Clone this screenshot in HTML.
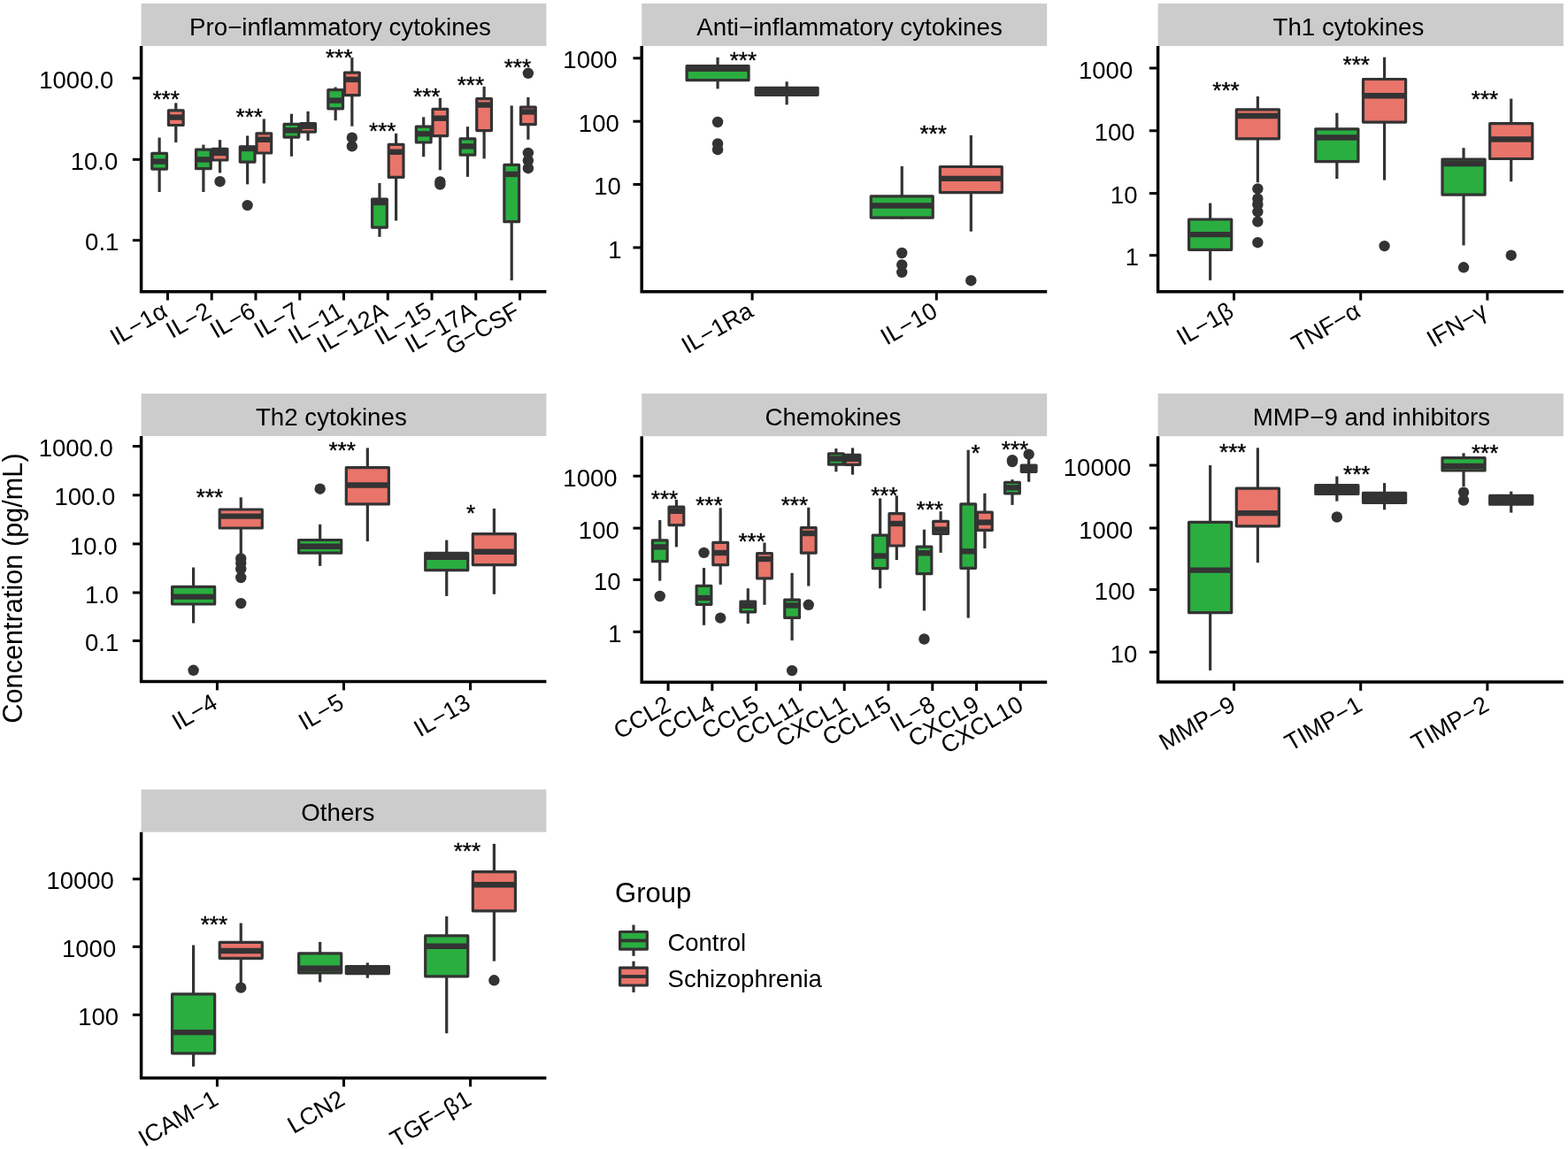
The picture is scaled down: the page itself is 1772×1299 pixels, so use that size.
<!DOCTYPE html><html><head><meta charset="utf-8"><title>Cytokine concentrations</title>
<style>html,body{margin:0;padding:0;background:#fff;}svg{display:block;}text{font-family:'Liberation Sans', Arial, Helvetica, sans-serif;fill:#000;}</style></head><body>
<svg width="1772" height="1299" viewBox="0 0 1772 1299">
<rect x="0" y="0" width="1772" height="1299" fill="#ffffff"/>
<rect x="159.6" y="4" width="457.8" height="48" fill="#CCCCCC"/>
<text x="214.07" y="39.8" font-size="27.7">Pro−inflammatory cytokines</text>
<g stroke="#000" stroke-width="3.5" fill="none">
<path d="M159.6 52 V329.7 H617.4"/>
</g>
<g stroke="#000" stroke-width="3">
<line x1="149.85" y1="88.3" x2="159.6" y2="88.3"/>
<line x1="149.85" y1="180.3" x2="159.6" y2="180.3"/>
<line x1="149.85" y1="271.7" x2="159.6" y2="271.7"/>
<line x1="189.46" y1="329.7" x2="189.46" y2="339.45"/>
<line x1="239.22" y1="329.7" x2="239.22" y2="339.45"/>
<line x1="288.98" y1="329.7" x2="288.98" y2="339.45"/>
<line x1="338.74" y1="329.7" x2="338.74" y2="339.45"/>
<line x1="388.5" y1="329.7" x2="388.5" y2="339.45"/>
<line x1="438.26" y1="329.7" x2="438.26" y2="339.45"/>
<line x1="488.02" y1="329.7" x2="488.02" y2="339.45"/>
<line x1="537.78" y1="329.7" x2="537.78" y2="339.45"/>
<line x1="587.54" y1="329.7" x2="587.54" y2="339.45"/>
</g>
<text x="44.28" y="99.97" font-size="27.5">1000.0</text>
<text x="79.78" y="191.97" font-size="27.5">10.0</text>
<text x="96.12" y="283.37" font-size="27.5">0.1</text>
<text transform="translate(190.96 356.7) rotate(-30)" font-size="27" text-anchor="end">IL−1α</text>
<text transform="translate(240.72 356.7) rotate(-30)" font-size="27" text-anchor="end">IL−2</text>
<text transform="translate(290.48 356.7) rotate(-30)" font-size="27" text-anchor="end">IL−6</text>
<text transform="translate(340.24 356.7) rotate(-30)" font-size="27" text-anchor="end">IL−7</text>
<text transform="translate(390 356.7) rotate(-30)" font-size="27" text-anchor="end">IL−11</text>
<text transform="translate(439.76 356.7) rotate(-30)" font-size="27" text-anchor="end">IL−12A</text>
<text transform="translate(489.52 356.7) rotate(-30)" font-size="27" text-anchor="end">IL−15</text>
<text transform="translate(539.28 356.7) rotate(-30)" font-size="27" text-anchor="end">IL−17A</text>
<text transform="translate(589.04 356.7) rotate(-30)" font-size="27" text-anchor="end">G−CSF</text>
<g stroke="#333333" stroke-width="3.2" stroke-linejoin="round">
<line x1="180.13" y1="155.6" x2="180.13" y2="173.4"/>
<line x1="180.13" y1="191.1" x2="180.13" y2="217"/>
<rect x="171.77" y="173.4" width="16.72" height="17.7" fill="#2AAE40"/>
<line x1="171.77" y1="182.6" x2="188.49" y2="182.6" stroke-width="6.4"/>
<line x1="198.79" y1="116.4" x2="198.79" y2="124.9"/>
<line x1="198.79" y1="141.5" x2="198.79" y2="161"/>
<rect x="190.43" y="124.9" width="16.72" height="16.6" fill="#E9746A"/>
<line x1="190.43" y1="132.6" x2="207.15" y2="132.6" stroke-width="6.4"/>
<line x1="229.89" y1="163.6" x2="229.89" y2="169.1"/>
<line x1="229.89" y1="190.7" x2="229.89" y2="217"/>
<rect x="221.53" y="169.1" width="16.72" height="21.6" fill="#2AAE40"/>
<line x1="221.53" y1="180.4" x2="238.25" y2="180.4" stroke-width="6.4"/>
<line x1="248.55" y1="158.2" x2="248.55" y2="168.4"/>
<line x1="248.55" y1="181" x2="248.55" y2="195.5"/>
<rect x="240.19" y="168.4" width="16.72" height="12.6" fill="#E9746A"/>
<line x1="240.19" y1="173" x2="256.91" y2="173" stroke-width="6.4"/>
<circle cx="248.55" cy="205.2" r="6.2" fill="#333333" stroke="none"/>
<line x1="279.65" y1="153.5" x2="279.65" y2="165.8"/>
<line x1="279.65" y1="183.1" x2="279.65" y2="208.4"/>
<rect x="271.29" y="165.8" width="16.72" height="17.3" fill="#2AAE40"/>
<line x1="271.29" y1="168" x2="288.01" y2="168" stroke-width="6.4"/>
<circle cx="279.65" cy="232.1" r="6.2" fill="#333333" stroke="none"/>
<line x1="298.31" y1="134.5" x2="298.31" y2="150.8"/>
<line x1="298.31" y1="173" x2="298.31" y2="207.4"/>
<rect x="289.95" y="150.8" width="16.72" height="22.2" fill="#E9746A"/>
<line x1="289.95" y1="157.8" x2="306.67" y2="157.8" stroke-width="6.4"/>
<line x1="329.41" y1="128.7" x2="329.41" y2="140.4"/>
<line x1="329.41" y1="155.1" x2="329.41" y2="176.8"/>
<rect x="321.05" y="140.4" width="16.72" height="14.7" fill="#2AAE40"/>
<line x1="321.05" y1="147.4" x2="337.77" y2="147.4" stroke-width="6.4"/>
<line x1="348.07" y1="125.9" x2="348.07" y2="139.6"/>
<line x1="348.07" y1="149.1" x2="348.07" y2="158.9"/>
<rect x="339.71" y="139.6" width="16.72" height="9.5" fill="#E9746A"/>
<line x1="339.71" y1="142.7" x2="356.43" y2="142.7" stroke-width="6.4"/>
<line x1="379.17" y1="98.5" x2="379.17" y2="101.6"/>
<line x1="379.17" y1="122.8" x2="379.17" y2="136.2"/>
<rect x="370.81" y="101.6" width="16.72" height="21.2" fill="#2AAE40"/>
<line x1="370.81" y1="113.6" x2="387.53" y2="113.6" stroke-width="6.4"/>
<line x1="397.83" y1="65.1" x2="397.83" y2="82.2"/>
<line x1="397.83" y1="107.7" x2="397.83" y2="142.7"/>
<rect x="389.47" y="82.2" width="16.72" height="25.5" fill="#E9746A"/>
<line x1="389.47" y1="89.9" x2="406.19" y2="89.9" stroke-width="6.4"/>
<circle cx="397.83" cy="155.7" r="6.2" fill="#333333" stroke="none"/>
<circle cx="397.83" cy="165.4" r="6.2" fill="#333333" stroke="none"/>
<line x1="428.93" y1="207" x2="428.93" y2="225.2"/>
<line x1="428.93" y1="257.1" x2="428.93" y2="267.8"/>
<rect x="420.57" y="225.2" width="16.72" height="31.9" fill="#2AAE40"/>
<line x1="420.57" y1="229" x2="437.29" y2="229" stroke-width="6.4"/>
<line x1="447.59" y1="150.9" x2="447.59" y2="163.3"/>
<line x1="447.59" y1="200.4" x2="447.59" y2="249.5"/>
<rect x="439.23" y="163.3" width="16.72" height="37.1" fill="#E9746A"/>
<line x1="439.23" y1="171.8" x2="455.95" y2="171.8" stroke-width="6.4"/>
<line x1="478.69" y1="132.4" x2="478.69" y2="143.2"/>
<line x1="478.69" y1="161" x2="478.69" y2="177.2"/>
<rect x="470.33" y="143.2" width="16.72" height="17.8" fill="#2AAE40"/>
<line x1="470.33" y1="151.3" x2="487.05" y2="151.3" stroke-width="6.4"/>
<line x1="497.35" y1="110.8" x2="497.35" y2="123.4"/>
<line x1="497.35" y1="153.6" x2="497.35" y2="192.3"/>
<rect x="488.99" y="123.4" width="16.72" height="30.2" fill="#E9746A"/>
<line x1="488.99" y1="133.7" x2="505.71" y2="133.7" stroke-width="6.4"/>
<circle cx="497.35" cy="205.5" r="6.2" fill="#333333" stroke="none"/>
<circle cx="497.35" cy="208.5" r="6.2" fill="#333333" stroke="none"/>
<line x1="528.45" y1="143.2" x2="528.45" y2="156.8"/>
<line x1="528.45" y1="175.2" x2="528.45" y2="199.9"/>
<rect x="520.09" y="156.8" width="16.72" height="18.4" fill="#2AAE40"/>
<line x1="520.09" y1="165.4" x2="536.81" y2="165.4" stroke-width="6.4"/>
<line x1="547.11" y1="97.9" x2="547.11" y2="111.6"/>
<line x1="547.11" y1="147.6" x2="547.11" y2="179.4"/>
<rect x="538.75" y="111.6" width="16.72" height="36" fill="#E9746A"/>
<line x1="538.75" y1="118.6" x2="555.47" y2="118.6" stroke-width="6.4"/>
<line x1="578.21" y1="119.4" x2="578.21" y2="186.4"/>
<line x1="578.21" y1="250.7" x2="578.21" y2="317"/>
<rect x="569.85" y="186.4" width="16.72" height="64.3" fill="#2AAE40"/>
<line x1="569.85" y1="197" x2="586.57" y2="197" stroke-width="6.4"/>
<line x1="596.87" y1="110" x2="596.87" y2="121.2"/>
<line x1="596.87" y1="140.7" x2="596.87" y2="157.8"/>
<rect x="588.51" y="121.2" width="16.72" height="19.5" fill="#E9746A"/>
<line x1="588.51" y1="126.5" x2="605.23" y2="126.5" stroke-width="6.4"/>
<circle cx="596.87" cy="82.8" r="6.2" fill="#333333" stroke="none"/>
<circle cx="596.87" cy="172.9" r="6.2" fill="#333333" stroke="none"/>
<circle cx="596.87" cy="181.5" r="6.2" fill="#333333" stroke="none"/>
<circle cx="596.87" cy="190.2" r="6.2" fill="#333333" stroke="none"/>
</g>
<text x="172.42" y="121.02" font-size="26" stroke="#000" stroke-width="0.4">***</text>
<text x="266.62" y="141.22" font-size="26" stroke="#000" stroke-width="0.4">***</text>
<text x="367.92" y="74.22" font-size="26" stroke="#000" stroke-width="0.4">***</text>
<text x="417.02" y="156.82" font-size="26" stroke="#000" stroke-width="0.4">***</text>
<text x="467.12" y="117.82" font-size="26" stroke="#000" stroke-width="0.4">***</text>
<text x="516.72" y="104.92" font-size="26" stroke="#000" stroke-width="0.4">***</text>
<text x="569.72" y="84.82" font-size="26" stroke="#000" stroke-width="0.4">***</text>
<rect x="725.2" y="4" width="458" height="48" fill="#CCCCCC"/>
<text x="787.27" y="39.8" font-size="27.7">Anti−inflammatory cytokines</text>
<g stroke="#000" stroke-width="3.5" fill="none">
<path d="M725.2 52 V329.7 H1183.2"/>
</g>
<g stroke="#000" stroke-width="3">
<line x1="715.45" y1="65.8" x2="725.2" y2="65.8"/>
<line x1="715.45" y1="137.2" x2="725.2" y2="137.2"/>
<line x1="715.45" y1="208.5" x2="725.2" y2="208.5"/>
<line x1="715.45" y1="279.9" x2="725.2" y2="279.9"/>
<line x1="850.11" y1="329.7" x2="850.11" y2="339.45"/>
<line x1="1058.29" y1="329.7" x2="1058.29" y2="339.45"/>
</g>
<text x="636.35" y="77.47" font-size="27.5">1000</text>
<text x="653.85" y="148.87" font-size="27.5">100</text>
<text x="671.3" y="220.17" font-size="27.5">10</text>
<text x="687.28" y="291.56" font-size="27.5">1</text>
<text transform="translate(853.11 356.7) rotate(-30)" font-size="27" text-anchor="end">IL−1Ra</text>
<text transform="translate(1061.29 356.7) rotate(-30)" font-size="27" text-anchor="end">IL−10</text>
<g stroke="#333333" stroke-width="3.2" stroke-linejoin="round">
<line x1="811.08" y1="64.9" x2="811.08" y2="74.6"/>
<line x1="811.08" y1="90.7" x2="811.08" y2="100.4"/>
<rect x="776.1" y="74.6" width="69.95" height="16.1" fill="#2AAE40"/>
<line x1="776.1" y1="77.8" x2="846.05" y2="77.8" stroke-width="6.4"/>
<circle cx="811.08" cy="138" r="6.2" fill="#333333" stroke="none"/>
<circle cx="811.08" cy="162.4" r="6.2" fill="#333333" stroke="none"/>
<circle cx="811.08" cy="169.2" r="6.2" fill="#333333" stroke="none"/>
<line x1="889.14" y1="92.3" x2="889.14" y2="99.3"/>
<line x1="889.14" y1="107.3" x2="889.14" y2="118.4"/>
<rect x="854.17" y="99.3" width="69.95" height="8" fill="#E9746A"/>
<line x1="854.17" y1="104.3" x2="924.12" y2="104.3" stroke-width="6.4"/>
<line x1="1019.26" y1="187.9" x2="1019.26" y2="221.8"/>
<line x1="1019.26" y1="246.1" x2="1019.26" y2="247.7"/>
<rect x="984.28" y="221.8" width="69.95" height="24.3" fill="#2AAE40"/>
<line x1="984.28" y1="232.5" x2="1054.23" y2="232.5" stroke-width="6.4"/>
<circle cx="1019.26" cy="286" r="6.2" fill="#333333" stroke="none"/>
<circle cx="1019.26" cy="299.4" r="6.2" fill="#333333" stroke="none"/>
<circle cx="1019.26" cy="307.8" r="6.2" fill="#333333" stroke="none"/>
<line x1="1097.33" y1="152.9" x2="1097.33" y2="188.5"/>
<line x1="1097.33" y1="217.6" x2="1097.33" y2="261.7"/>
<rect x="1062.35" y="188.5" width="69.95" height="29.1" fill="#E9746A"/>
<line x1="1062.35" y1="201.9" x2="1132.3" y2="201.9" stroke-width="6.4"/>
<circle cx="1097.33" cy="317.2" r="6.2" fill="#333333" stroke="none"/>
</g>
<text x="824.72" y="77.42" font-size="26" stroke="#000" stroke-width="0.4">***</text>
<text x="1039.42" y="160.22" font-size="26" stroke="#000" stroke-width="0.4">***</text>
<rect x="1308.6" y="4" width="458.2" height="48" fill="#CCCCCC"/>
<text x="1438.54" y="39.8" font-size="27.7">Th1 cytokines</text>
<g stroke="#000" stroke-width="3.5" fill="none">
<path d="M1308.6 52 V329.8 H1766.8"/>
</g>
<g stroke="#000" stroke-width="3">
<line x1="1298.85" y1="77" x2="1308.6" y2="77"/>
<line x1="1298.85" y1="147.8" x2="1308.6" y2="147.8"/>
<line x1="1298.85" y1="218.6" x2="1308.6" y2="218.6"/>
<line x1="1298.85" y1="288.7" x2="1308.6" y2="288.7"/>
<line x1="1394.51" y1="329.8" x2="1394.51" y2="339.55"/>
<line x1="1537.7" y1="329.8" x2="1537.7" y2="339.55"/>
<line x1="1680.89" y1="329.8" x2="1680.89" y2="339.55"/>
</g>
<text x="1219" y="88.67" font-size="27.5">1000</text>
<text x="1236.7" y="159.47" font-size="27.5">100</text>
<text x="1254.85" y="230.27" font-size="27.5">10</text>
<text x="1271.83" y="300.36" font-size="27.5">1</text>
<text transform="translate(1396.01 356.8) rotate(-30)" font-size="27" text-anchor="end">IL−1β</text>
<text transform="translate(1539.2 356.8) rotate(-30)" font-size="27" text-anchor="end">TNF−α</text>
<text transform="translate(1682.39 356.8) rotate(-30)" font-size="27" text-anchor="end">IFN−γ</text>
<g stroke="#333333" stroke-width="3.2" stroke-linejoin="round">
<line x1="1367.66" y1="229.6" x2="1367.66" y2="248"/>
<line x1="1367.66" y1="282.3" x2="1367.66" y2="316.9"/>
<rect x="1343.61" y="248" width="48.11" height="34.3" fill="#2AAE40"/>
<line x1="1343.61" y1="265.1" x2="1391.72" y2="265.1" stroke-width="6.4"/>
<line x1="1421.36" y1="109" x2="1421.36" y2="123.8"/>
<line x1="1421.36" y1="156.8" x2="1421.36" y2="206.3"/>
<rect x="1397.3" y="123.8" width="48.11" height="33" fill="#E9746A"/>
<line x1="1397.3" y1="131" x2="1445.42" y2="131" stroke-width="6.4"/>
<circle cx="1421.36" cy="213.4" r="6.2" fill="#333333" stroke="none"/>
<circle cx="1421.36" cy="224.7" r="6.2" fill="#333333" stroke="none"/>
<circle cx="1421.36" cy="231.2" r="6.2" fill="#333333" stroke="none"/>
<circle cx="1421.36" cy="239.3" r="6.2" fill="#333333" stroke="none"/>
<circle cx="1421.36" cy="250.6" r="6.2" fill="#333333" stroke="none"/>
<circle cx="1421.36" cy="274.2" r="6.2" fill="#333333" stroke="none"/>
<line x1="1510.85" y1="127.7" x2="1510.85" y2="145.8"/>
<line x1="1510.85" y1="182.7" x2="1510.85" y2="202.1"/>
<rect x="1486.8" y="145.8" width="48.11" height="36.9" fill="#2AAE40"/>
<line x1="1486.8" y1="155.5" x2="1534.91" y2="155.5" stroke-width="6.4"/>
<line x1="1564.55" y1="64.7" x2="1564.55" y2="89.5"/>
<line x1="1564.55" y1="138.1" x2="1564.55" y2="203.7"/>
<rect x="1540.49" y="89.5" width="48.11" height="48.6" fill="#E9746A"/>
<line x1="1540.49" y1="108.3" x2="1588.6" y2="108.3" stroke-width="6.4"/>
<circle cx="1564.55" cy="278.1" r="6.2" fill="#333333" stroke="none"/>
<line x1="1654.04" y1="167.2" x2="1654.04" y2="180.1"/>
<line x1="1654.04" y1="220.2" x2="1654.04" y2="277.4"/>
<rect x="1629.98" y="180.1" width="48.11" height="40.1" fill="#2AAE40"/>
<line x1="1629.98" y1="185" x2="1678.1" y2="185" stroke-width="6.4"/>
<circle cx="1654.04" cy="302.3" r="6.2" fill="#333333" stroke="none"/>
<line x1="1707.74" y1="111.6" x2="1707.74" y2="139.7"/>
<line x1="1707.74" y1="179.5" x2="1707.74" y2="205.3"/>
<rect x="1683.68" y="139.7" width="48.11" height="39.8" fill="#E9746A"/>
<line x1="1683.68" y1="157.5" x2="1731.79" y2="157.5" stroke-width="6.4"/>
<circle cx="1707.74" cy="288.7" r="6.2" fill="#333333" stroke="none"/>
</g>
<text x="1370.32" y="110.62" font-size="26" stroke="#000" stroke-width="0.4">***</text>
<text x="1517.52" y="81.62" font-size="26" stroke="#000" stroke-width="0.4">***</text>
<text x="1662.82" y="121.32" font-size="26" stroke="#000" stroke-width="0.4">***</text>
<rect x="159.6" y="445" width="457.8" height="48" fill="#CCCCCC"/>
<text x="288.94" y="480.8" font-size="27.7">Th2 cytokines</text>
<g stroke="#000" stroke-width="3.5" fill="none">
<path d="M159.6 493 V770.6 H617.4"/>
</g>
<g stroke="#000" stroke-width="3">
<line x1="149.85" y1="504.5" x2="159.6" y2="504.5"/>
<line x1="149.85" y1="559.8" x2="159.6" y2="559.8"/>
<line x1="149.85" y1="614.9" x2="159.6" y2="614.9"/>
<line x1="149.85" y1="670" x2="159.6" y2="670"/>
<line x1="149.85" y1="724.4" x2="159.6" y2="724.4"/>
<line x1="245.44" y1="770.6" x2="245.44" y2="780.35"/>
<line x1="388.5" y1="770.6" x2="388.5" y2="780.35"/>
<line x1="531.56" y1="770.6" x2="531.56" y2="780.35"/>
</g>
<text x="43.63" y="516.17" font-size="27.5">1000.0</text>
<text x="61.43" y="571.47" font-size="27.5">100.0</text>
<text x="79.03" y="626.57" font-size="27.5">10.0</text>
<text x="95.93" y="681.67" font-size="27.5">1.0</text>
<text x="96.07" y="736.07" font-size="27.5">0.1</text>
<text transform="translate(247.44 799.6) rotate(-30)" font-size="27" text-anchor="end">IL−4</text>
<text transform="translate(390.5 799.6) rotate(-30)" font-size="27" text-anchor="end">IL−5</text>
<text transform="translate(533.56 799.6) rotate(-30)" font-size="27" text-anchor="end">IL−13</text>
<g stroke="#333333" stroke-width="3.2" stroke-linejoin="round">
<line x1="218.61" y1="641.5" x2="218.61" y2="663.4"/>
<line x1="218.61" y1="683" x2="218.61" y2="704.5"/>
<rect x="194.58" y="663.4" width="48.07" height="19.6" fill="#2AAE40"/>
<line x1="194.58" y1="674.6" x2="242.65" y2="674.6" stroke-width="6.4"/>
<circle cx="218.61" cy="757.8" r="6.2" fill="#333333" stroke="none"/>
<line x1="272.26" y1="562.3" x2="272.26" y2="576"/>
<line x1="272.26" y1="597" x2="272.26" y2="627.3"/>
<rect x="248.23" y="576" width="48.07" height="21" fill="#E9746A"/>
<line x1="248.23" y1="583.6" x2="296.3" y2="583.6" stroke-width="6.4"/>
<circle cx="272.26" cy="631.5" r="6.2" fill="#333333" stroke="none"/>
<circle cx="272.26" cy="636.7" r="6.2" fill="#333333" stroke="none"/>
<circle cx="272.26" cy="643.2" r="6.2" fill="#333333" stroke="none"/>
<circle cx="272.26" cy="653" r="6.2" fill="#333333" stroke="none"/>
<circle cx="272.26" cy="682.1" r="6.2" fill="#333333" stroke="none"/>
<line x1="361.68" y1="592.8" x2="361.68" y2="610.5"/>
<line x1="361.68" y1="625.2" x2="361.68" y2="639.8"/>
<rect x="337.64" y="610.5" width="48.07" height="14.7" fill="#2AAE40"/>
<line x1="337.64" y1="617.7" x2="385.71" y2="617.7" stroke-width="6.4"/>
<circle cx="361.68" cy="552.7" r="6.2" fill="#333333" stroke="none"/>
<line x1="415.32" y1="506.4" x2="415.32" y2="528.7"/>
<line x1="415.32" y1="569.9" x2="415.32" y2="612"/>
<rect x="391.29" y="528.7" width="48.07" height="41.2" fill="#E9746A"/>
<line x1="391.29" y1="548.5" x2="439.36" y2="548.5" stroke-width="6.4"/>
<line x1="504.74" y1="610.6" x2="504.74" y2="625.3"/>
<line x1="504.74" y1="644.7" x2="504.74" y2="673.9"/>
<rect x="480.7" y="625.3" width="48.07" height="19.4" fill="#2AAE40"/>
<line x1="480.7" y1="629.8" x2="528.77" y2="629.8" stroke-width="6.4"/>
<line x1="558.39" y1="575" x2="558.39" y2="603.7"/>
<line x1="558.39" y1="638.6" x2="558.39" y2="671.8"/>
<rect x="534.35" y="603.7" width="48.07" height="34.9" fill="#E9746A"/>
<line x1="534.35" y1="623.7" x2="582.42" y2="623.7" stroke-width="6.4"/>
</g>
<text x="221.82" y="570.92" font-size="26" stroke="#000" stroke-width="0.4">***</text>
<text x="371.42" y="517.92" font-size="26" stroke="#000" stroke-width="0.4">***</text>
<text x="527.03" y="588.52" font-size="26" stroke="#000" stroke-width="0.4">*</text>
<rect x="725.2" y="444.9" width="458" height="48.3" fill="#CCCCCC"/>
<text x="864.42" y="480.7" font-size="27.7">Chemokines</text>
<g stroke="#000" stroke-width="3.5" fill="none">
<path d="M725.2 493.2 V771.2 H1183.2"/>
</g>
<g stroke="#000" stroke-width="3">
<line x1="715.45" y1="538.2" x2="725.2" y2="538.2"/>
<line x1="715.45" y1="597.1" x2="725.2" y2="597.1"/>
<line x1="715.45" y1="655.4" x2="725.2" y2="655.4"/>
<line x1="715.45" y1="714.3" x2="725.2" y2="714.3"/>
<line x1="755.07" y1="771.2" x2="755.07" y2="780.95"/>
<line x1="804.85" y1="771.2" x2="804.85" y2="780.95"/>
<line x1="854.63" y1="771.2" x2="854.63" y2="780.95"/>
<line x1="904.42" y1="771.2" x2="904.42" y2="780.95"/>
<line x1="954.2" y1="771.2" x2="954.2" y2="780.95"/>
<line x1="1003.98" y1="771.2" x2="1003.98" y2="780.95"/>
<line x1="1053.77" y1="771.2" x2="1053.77" y2="780.95"/>
<line x1="1103.55" y1="771.2" x2="1103.55" y2="780.95"/>
<line x1="1153.33" y1="771.2" x2="1153.33" y2="780.95"/>
</g>
<text x="636.35" y="549.87" font-size="27.5">1000</text>
<text x="653.85" y="608.77" font-size="27.5">100</text>
<text x="671" y="667.07" font-size="27.5">10</text>
<text x="687.28" y="725.96" font-size="27.5">1</text>
<text transform="translate(760.07 801.7) rotate(-30)" font-size="27" text-anchor="end">CCL2</text>
<text transform="translate(809.85 801.7) rotate(-30)" font-size="27" text-anchor="end">CCL4</text>
<text transform="translate(859.63 801.7) rotate(-30)" font-size="27" text-anchor="end">CCL5</text>
<text transform="translate(909.42 801.7) rotate(-30)" font-size="27" text-anchor="end">CCL11</text>
<text transform="translate(959.2 801.7) rotate(-30)" font-size="27" text-anchor="end">CXCL1</text>
<text transform="translate(1008.98 801.7) rotate(-30)" font-size="27" text-anchor="end">CCL15</text>
<text transform="translate(1058.77 801.7) rotate(-30)" font-size="27" text-anchor="end">IL−8</text>
<text transform="translate(1108.55 801.7) rotate(-30)" font-size="27" text-anchor="end">CXCL9</text>
<text transform="translate(1158.33 801.7) rotate(-30)" font-size="27" text-anchor="end">CXCL10</text>
<g stroke="#333333" stroke-width="3.2" stroke-linejoin="round">
<line x1="745.74" y1="588" x2="745.74" y2="610.9"/>
<line x1="745.74" y1="634.7" x2="745.74" y2="656.7"/>
<rect x="737.37" y="610.9" width="16.73" height="23.8" fill="#2AAE40"/>
<line x1="737.37" y1="618.4" x2="754.1" y2="618.4" stroke-width="6.4"/>
<circle cx="745.74" cy="674" r="6.2" fill="#333333" stroke="none"/>
<line x1="764.4" y1="565" x2="764.4" y2="573.1"/>
<line x1="764.4" y1="593.6" x2="764.4" y2="618.4"/>
<rect x="756.04" y="573.1" width="16.73" height="20.5" fill="#E9746A"/>
<line x1="756.04" y1="577.8" x2="772.77" y2="577.8" stroke-width="6.4"/>
<line x1="795.52" y1="642" x2="795.52" y2="662.4"/>
<line x1="795.52" y1="683.3" x2="795.52" y2="706.8"/>
<rect x="787.15" y="662.4" width="16.73" height="20.9" fill="#2AAE40"/>
<line x1="787.15" y1="676" x2="803.88" y2="676" stroke-width="6.4"/>
<circle cx="795.52" cy="624.9" r="6.2" fill="#333333" stroke="none"/>
<line x1="814.19" y1="574.2" x2="814.19" y2="613.3"/>
<line x1="814.19" y1="638.7" x2="814.19" y2="660.9"/>
<rect x="805.82" y="613.3" width="16.73" height="25.4" fill="#E9746A"/>
<line x1="805.82" y1="625" x2="822.55" y2="625" stroke-width="6.4"/>
<circle cx="814.19" cy="698.6" r="6.2" fill="#333333" stroke="none"/>
<line x1="845.3" y1="665.2" x2="845.3" y2="680.2"/>
<line x1="845.3" y1="691.8" x2="845.3" y2="705.1"/>
<rect x="836.94" y="680.2" width="16.73" height="11.6" fill="#2AAE40"/>
<line x1="836.94" y1="684.8" x2="853.66" y2="684.8" stroke-width="6.4"/>
<line x1="863.97" y1="613.5" x2="863.97" y2="625.6"/>
<line x1="863.97" y1="653.9" x2="863.97" y2="683.8"/>
<rect x="855.61" y="625.6" width="16.73" height="28.3" fill="#E9746A"/>
<line x1="855.61" y1="632" x2="872.33" y2="632" stroke-width="6.4"/>
<line x1="895.08" y1="647.8" x2="895.08" y2="678.1"/>
<line x1="895.08" y1="698.4" x2="895.08" y2="724.1"/>
<rect x="886.72" y="678.1" width="16.73" height="20.3" fill="#2AAE40"/>
<line x1="886.72" y1="684.5" x2="903.45" y2="684.5" stroke-width="6.4"/>
<circle cx="895.08" cy="758.1" r="6.2" fill="#333333" stroke="none"/>
<line x1="913.75" y1="573.7" x2="913.75" y2="596.6"/>
<line x1="913.75" y1="625.2" x2="913.75" y2="662.6"/>
<rect x="905.39" y="596.6" width="16.73" height="28.6" fill="#E9746A"/>
<line x1="905.39" y1="603" x2="922.12" y2="603" stroke-width="6.4"/>
<circle cx="913.75" cy="683.8" r="6.2" fill="#333333" stroke="none"/>
<line x1="944.87" y1="507.1" x2="944.87" y2="512.8"/>
<line x1="944.87" y1="525.2" x2="944.87" y2="533.3"/>
<rect x="936.5" y="512.8" width="16.73" height="12.4" fill="#2AAE40"/>
<line x1="936.5" y1="518.6" x2="953.23" y2="518.6" stroke-width="6.4"/>
<line x1="963.53" y1="506.4" x2="963.53" y2="514.4"/>
<line x1="963.53" y1="525.3" x2="963.53" y2="536.6"/>
<rect x="955.17" y="514.4" width="16.73" height="10.9" fill="#E9746A"/>
<line x1="955.17" y1="518.8" x2="971.9" y2="518.8" stroke-width="6.4"/>
<line x1="994.65" y1="563.4" x2="994.65" y2="605.1"/>
<line x1="994.65" y1="642.6" x2="994.65" y2="665.2"/>
<rect x="986.28" y="605.1" width="16.73" height="37.5" fill="#2AAE40"/>
<line x1="986.28" y1="628.5" x2="1003.01" y2="628.5" stroke-width="6.4"/>
<line x1="1013.32" y1="560.4" x2="1013.32" y2="580.6"/>
<line x1="1013.32" y1="617" x2="1013.32" y2="633.1"/>
<rect x="1004.95" y="580.6" width="16.73" height="36.4" fill="#E9746A"/>
<line x1="1004.95" y1="592" x2="1021.68" y2="592" stroke-width="6.4"/>
<line x1="1044.43" y1="598.7" x2="1044.43" y2="618.2"/>
<line x1="1044.43" y1="648.7" x2="1044.43" y2="690.4"/>
<rect x="1036.07" y="618.2" width="16.73" height="30.5" fill="#2AAE40"/>
<line x1="1036.07" y1="625.3" x2="1052.79" y2="625.3" stroke-width="6.4"/>
<circle cx="1044.43" cy="722.5" r="6.2" fill="#333333" stroke="none"/>
<line x1="1063.1" y1="578.1" x2="1063.1" y2="589.4"/>
<line x1="1063.1" y1="603.4" x2="1063.1" y2="624.9"/>
<rect x="1054.74" y="589.4" width="16.73" height="14" fill="#E9746A"/>
<line x1="1054.74" y1="598.6" x2="1071.46" y2="598.6" stroke-width="6.4"/>
<line x1="1094.21" y1="508.7" x2="1094.21" y2="569.9"/>
<line x1="1094.21" y1="642.3" x2="1094.21" y2="698.6"/>
<rect x="1085.85" y="569.9" width="16.73" height="72.4" fill="#2AAE40"/>
<line x1="1085.85" y1="623.3" x2="1102.58" y2="623.3" stroke-width="6.4"/>
<line x1="1112.88" y1="557.8" x2="1112.88" y2="579.1"/>
<line x1="1112.88" y1="599.4" x2="1112.88" y2="620"/>
<rect x="1104.52" y="579.1" width="16.73" height="20.3" fill="#E9746A"/>
<line x1="1104.52" y1="590.6" x2="1121.25" y2="590.6" stroke-width="6.4"/>
<line x1="1144" y1="542.1" x2="1144" y2="545.4"/>
<line x1="1144" y1="557.9" x2="1144" y2="570.9"/>
<rect x="1135.63" y="545.4" width="16.73" height="12.5" fill="#2AAE40"/>
<line x1="1135.63" y1="551.3" x2="1152.36" y2="551.3" stroke-width="6.4"/>
<circle cx="1144" cy="520.2" r="6.2" fill="#333333" stroke="none"/>
<circle cx="1144" cy="522" r="6.2" fill="#333333" stroke="none"/>
<line x1="1162.66" y1="518.6" x2="1162.66" y2="526"/>
<line x1="1162.66" y1="533.3" x2="1162.66" y2="544.7"/>
<rect x="1154.3" y="526" width="16.73" height="7.3" fill="#E9746A"/>
<line x1="1154.3" y1="529" x2="1171.03" y2="529" stroke-width="6.4"/>
<circle cx="1162.66" cy="513.6" r="6.2" fill="#333333" stroke="none"/>
</g>
<text x="735.82" y="572.52" font-size="26" stroke="#000" stroke-width="0.4">***</text>
<text x="786.22" y="579.92" font-size="26" stroke="#000" stroke-width="0.4">***</text>
<text x="834.42" y="620.82" font-size="26" stroke="#000" stroke-width="0.4">***</text>
<text x="882.72" y="579.52" font-size="26" stroke="#000" stroke-width="0.4">***</text>
<text x="984.22" y="568.62" font-size="26" stroke="#000" stroke-width="0.4">***</text>
<text x="1035.62" y="585.02" font-size="26" stroke="#000" stroke-width="0.4">***</text>
<text x="1097.53" y="520.62" font-size="26" stroke="#000" stroke-width="0.4">*</text>
<text x="1131.82" y="516.92" font-size="26" stroke="#000" stroke-width="0.4">***</text>
<rect x="1308.6" y="444.9" width="458.2" height="48.3" fill="#CCCCCC"/>
<text x="1415.63" y="480.7" font-size="27.7">MMP−9 and inhibitors</text>
<g stroke="#000" stroke-width="3.5" fill="none">
<path d="M1308.6 493.2 V771.1 H1766.8"/>
</g>
<g stroke="#000" stroke-width="3">
<line x1="1298.85" y1="526" x2="1308.6" y2="526"/>
<line x1="1298.85" y1="597" x2="1308.6" y2="597"/>
<line x1="1298.85" y1="666.6" x2="1308.6" y2="666.6"/>
<line x1="1298.85" y1="737.2" x2="1308.6" y2="737.2"/>
<line x1="1394.51" y1="771.1" x2="1394.51" y2="780.85"/>
<line x1="1537.7" y1="771.1" x2="1537.7" y2="780.85"/>
<line x1="1680.89" y1="771.1" x2="1680.89" y2="780.85"/>
</g>
<text x="1201.8" y="537.67" font-size="27.5">10000</text>
<text x="1219.15" y="608.67" font-size="27.5">1000</text>
<text x="1236.85" y="678.27" font-size="27.5">100</text>
<text x="1254.65" y="748.87" font-size="27.5">10</text>
<text transform="translate(1398.01 802.1) rotate(-30)" font-size="27" text-anchor="end">MMP−9</text>
<text transform="translate(1541.2 802.1) rotate(-30)" font-size="27" text-anchor="end">TIMP−1</text>
<text transform="translate(1684.39 802.1) rotate(-30)" font-size="27" text-anchor="end">TIMP−2</text>
<g stroke="#333333" stroke-width="3.2" stroke-linejoin="round">
<line x1="1367.66" y1="526" x2="1367.66" y2="590.3"/>
<line x1="1367.66" y1="692.7" x2="1367.66" y2="757.9"/>
<rect x="1343.61" y="590.3" width="48.11" height="102.4" fill="#2AAE40"/>
<line x1="1343.61" y1="644.6" x2="1391.72" y2="644.6" stroke-width="6.4"/>
<line x1="1421.36" y1="506.3" x2="1421.36" y2="552.1"/>
<line x1="1421.36" y1="594.8" x2="1421.36" y2="636.1"/>
<rect x="1397.3" y="552.1" width="48.11" height="42.7" fill="#E9746A"/>
<line x1="1397.3" y1="580.1" x2="1445.42" y2="580.1" stroke-width="6.4"/>
<line x1="1510.85" y1="538.5" x2="1510.85" y2="548.7"/>
<line x1="1510.85" y1="558.5" x2="1510.85" y2="566.6"/>
<rect x="1486.8" y="548.7" width="48.11" height="9.8" fill="#333333"/>
<line x1="1486.8" y1="553.6" x2="1534.91" y2="553.6" stroke-width="6.4"/>
<circle cx="1510.85" cy="584.5" r="6.2" fill="#333333" stroke="none"/>
<line x1="1564.55" y1="546.1" x2="1564.55" y2="557.3"/>
<line x1="1564.55" y1="568.4" x2="1564.55" y2="576.3"/>
<rect x="1540.49" y="557.3" width="48.11" height="11.1" fill="#333333"/>
<line x1="1540.49" y1="562.9" x2="1588.6" y2="562.9" stroke-width="6.4"/>
<line x1="1654.04" y1="512.3" x2="1654.04" y2="517.6"/>
<line x1="1654.04" y1="532" x2="1654.04" y2="550"/>
<rect x="1629.98" y="517.6" width="48.11" height="14.4" fill="#2AAE40"/>
<line x1="1629.98" y1="527" x2="1678.1" y2="527" stroke-width="6.4"/>
<circle cx="1654.04" cy="556.6" r="6.2" fill="#333333" stroke="none"/>
<circle cx="1654.04" cy="565.5" r="6.2" fill="#333333" stroke="none"/>
<line x1="1707.74" y1="555.6" x2="1707.74" y2="560.4"/>
<line x1="1707.74" y1="570.2" x2="1707.74" y2="579.6"/>
<rect x="1683.68" y="560.4" width="48.11" height="9.8" fill="#333333"/>
<line x1="1683.68" y1="565.3" x2="1731.79" y2="565.3" stroke-width="6.4"/>
</g>
<text x="1378.12" y="520.42" font-size="26" stroke="#000" stroke-width="0.4">***</text>
<text x="1518.02" y="545.22" font-size="26" stroke="#000" stroke-width="0.4">***</text>
<text x="1662.92" y="521.22" font-size="26" stroke="#000" stroke-width="0.4">***</text>
<rect x="159.6" y="892.6" width="457.8" height="48.1" fill="#CCCCCC"/>
<text x="340.28" y="928.4" font-size="27.7">Others</text>
<g stroke="#000" stroke-width="3.5" fill="none">
<path d="M159.6 940.7 V1218.8 H617.4"/>
</g>
<g stroke="#000" stroke-width="3">
<line x1="149.85" y1="993.8" x2="159.6" y2="993.8"/>
<line x1="149.85" y1="1070.3" x2="159.6" y2="1070.3"/>
<line x1="149.85" y1="1147.3" x2="159.6" y2="1147.3"/>
<line x1="245.44" y1="1218.8" x2="245.44" y2="1228.55"/>
<line x1="388.5" y1="1218.8" x2="388.5" y2="1228.55"/>
<line x1="531.56" y1="1218.8" x2="531.56" y2="1228.55"/>
</g>
<text x="52.45" y="1005.47" font-size="27.5">10000</text>
<text x="70" y="1081.97" font-size="27.5">1000</text>
<text x="88.15" y="1158.97" font-size="27.5">100</text>
<text transform="translate(248.44 1247.8) rotate(-30)" font-size="27" text-anchor="end">ICAM−1</text>
<text transform="translate(391.5 1247.8) rotate(-30)" font-size="27" text-anchor="end">LCN2</text>
<text transform="translate(534.56 1247.8) rotate(-30)" font-size="27" text-anchor="end">TGF−β1</text>
<g stroke="#333333" stroke-width="3.2" stroke-linejoin="round">
<line x1="218.61" y1="1068.5" x2="218.61" y2="1123.8"/>
<line x1="218.61" y1="1190.8" x2="218.61" y2="1205.8"/>
<rect x="194.58" y="1123.8" width="48.07" height="67" fill="#2AAE40"/>
<line x1="194.58" y1="1167.1" x2="242.65" y2="1167.1" stroke-width="6.4"/>
<line x1="272.26" y1="1043.6" x2="272.26" y2="1065.4"/>
<line x1="272.26" y1="1083.3" x2="272.26" y2="1111.2"/>
<rect x="248.23" y="1065.4" width="48.07" height="17.9" fill="#E9746A"/>
<line x1="248.23" y1="1075" x2="296.3" y2="1075" stroke-width="6.4"/>
<circle cx="272.26" cy="1116.6" r="6.2" fill="#333333" stroke="none"/>
<line x1="361.68" y1="1064.9" x2="361.68" y2="1077.9"/>
<line x1="361.68" y1="1099.9" x2="361.68" y2="1110.4"/>
<rect x="337.64" y="1077.9" width="48.07" height="22" fill="#2AAE40"/>
<line x1="337.64" y1="1094.7" x2="385.71" y2="1094.7" stroke-width="6.4"/>
<line x1="415.32" y1="1088.4" x2="415.32" y2="1092.7"/>
<line x1="415.32" y1="1100.6" x2="415.32" y2="1105.7"/>
<rect x="391.29" y="1092.7" width="48.07" height="7.9" fill="#333333"/>
<line x1="391.29" y1="1096.7" x2="439.36" y2="1096.7" stroke-width="6.4"/>
<line x1="504.74" y1="1036" x2="504.74" y2="1057.9"/>
<line x1="504.74" y1="1103.8" x2="504.74" y2="1168.2"/>
<rect x="480.7" y="1057.9" width="48.07" height="45.9" fill="#2AAE40"/>
<line x1="480.7" y1="1069.8" x2="528.77" y2="1069.8" stroke-width="6.4"/>
<line x1="558.39" y1="954" x2="558.39" y2="985.7"/>
<line x1="558.39" y1="1029.8" x2="558.39" y2="1086.6"/>
<rect x="534.35" y="985.7" width="48.07" height="44.1" fill="#E9746A"/>
<line x1="534.35" y1="1000.2" x2="582.42" y2="1000.2" stroke-width="6.4"/>
<circle cx="558.39" cy="1108.3" r="6.2" fill="#333333" stroke="none"/>
</g>
<text x="226.72" y="1054.32" font-size="26" stroke="#000" stroke-width="0.4">***</text>
<text x="512.72" y="971.32" font-size="26" stroke="#000" stroke-width="0.4">***</text>
<text transform="translate(25.4 665) rotate(-90)" font-size="30.7" text-anchor="middle">Concentration (pg/mL)</text>
<text x="695.04" y="1020.3" font-size="31">Group</text>
<g stroke="#333333" stroke-width="3.2" stroke-linejoin="round">
<line x1="716" y1="1045.6" x2="716" y2="1080.8"/>
<rect x="700.6" y="1053.5" width="30.7" height="19.7" fill="#2AAE40"/>
<line x1="700.6" y1="1063.4" x2="731.3" y2="1063.4" stroke-width="3.84"/>
</g>
<g stroke="#333333" stroke-width="3.2" stroke-linejoin="round">
<line x1="716" y1="1086.7" x2="716" y2="1121.9"/>
<rect x="700.6" y="1094.1" width="30.7" height="19.9" fill="#E9746A"/>
<line x1="700.6" y1="1104" x2="731.3" y2="1104" stroke-width="3.84"/>
</g>
<text x="754.4" y="1074.8" font-size="27.5">Control</text>
<text x="754.55" y="1115.6" font-size="27.5">Schizophrenia</text>
</svg></body></html>
